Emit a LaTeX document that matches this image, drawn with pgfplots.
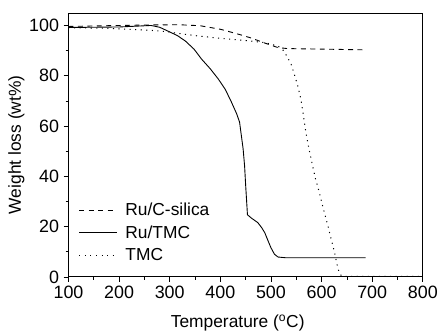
\documentclass[border=0pt]{standalone}
\usepackage{pgfplots}
\pgfplotsset{compat=1.18}
\usepackage{fontspec}
\setmainfont{Liberation Sans}
\begin{document}
\begin{tikzpicture}
\begin{axis}[
  scale only axis, width=357pt, height=266pt,
  xmin=100, xmax=800, ymin=0, ymax=105,
  xtick={100,200,...,800}, ytick={0,20,...,100},
  minor x tick num=1, minor y tick num=1,
  tick align=outside, xtick pos=bottom, ytick pos=left,
  major tick length=5pt, minor tick length=3pt,
  tick style={black, line width=0.6pt},
  axis line style={line width=0.8pt},
  /pgf/number format/assume math mode=true,
  ticklabel style={font=\fontsize{18}{20}\selectfont},
  label style={font=\fontsize{17.5}{20}\selectfont},
  xticklabel style={yshift=-1pt},
  yticklabel style={xshift=-1pt},
  xlabel={Temperature (\textsuperscript{o}C)},
  ylabel={Weight loss (wt\%)},
  xlabel style={yshift=-9pt, xshift=-8pt},
  ylabel style={yshift=-2pt},
  legend style={draw=none, fill=none, at={(axis cs:118,30.5)}, anchor=north west,
    font=\fontsize{17.5}{20}\selectfont, row sep=4.5pt, inner sep=1pt},
  legend cell align=left,
  legend image code/.code={\draw[#1] (0pt,0pt) -- (38pt,0pt); \path (44pt,0pt);},
]
\addplot[black, line width=0.9pt, dash pattern=on 5pt off 4.5pt] coordinates {
(100,99.6) (150,99.8) (200,100) (260,100.2) (318,100.3) (360,99.9) (400,98.5) (422,97.3) (445,96) (461,95) (488,93) (514,91.2) (533,90.8) (600,90.6) (687,90.3)};
\addlegendentry{Ru/C-silica}
\addplot[black, line width=0.9pt] coordinates {
(100,99.2) (200,99.4) (263,100) (280,99.3) (295,97.9) (315,96) (331,93.8) (348,90.6) (363,86.6) (380,82.8) (396,78.7) (410,74.5) (422,69.5) (432,65) (438,61.6) (441,57) (445,51) (448,44) (450,36.6) (452,30) (453.6,24.7) (462,23.3) (474,21.6) (482,19.5) (488,17.5) (494,14.5) (500,11.6) (507,9) (514,7.9) (530,7.6) (600,7.6) (687,7.6)};
\addlegendentry{Ru/TMC}
\addplot[black, line width=1pt, dash pattern=on 1.1pt off 4.5pt] coordinates {
(100,99.1) (170,98.9) (226,98.4) (260,98.1) (291,97.6) (330,96.5) (357,95.8) (390,95.1) (422,94.5) (460,93.8) (488,93.2) (514,91.8) (525,90) (533,87.2) (540,84.5) (546,80.7) (553,76) (559,70.8) (564,64.5) (569,57.6) (575,51) (582,44.5) (588,39) (595,34) (603,27.5) (612,20.8) (619,15) (625,10.3) (630,5.5) (635,1.5) (640,0.3) (648,0.2) (700,0.2) (800,0.2)};
\addlegendentry{TMC}
\end{axis}
\path[use as bounding box] (-69pt,-53pt) rectangle (372pt,279pt);
\end{tikzpicture}
\end{document}
